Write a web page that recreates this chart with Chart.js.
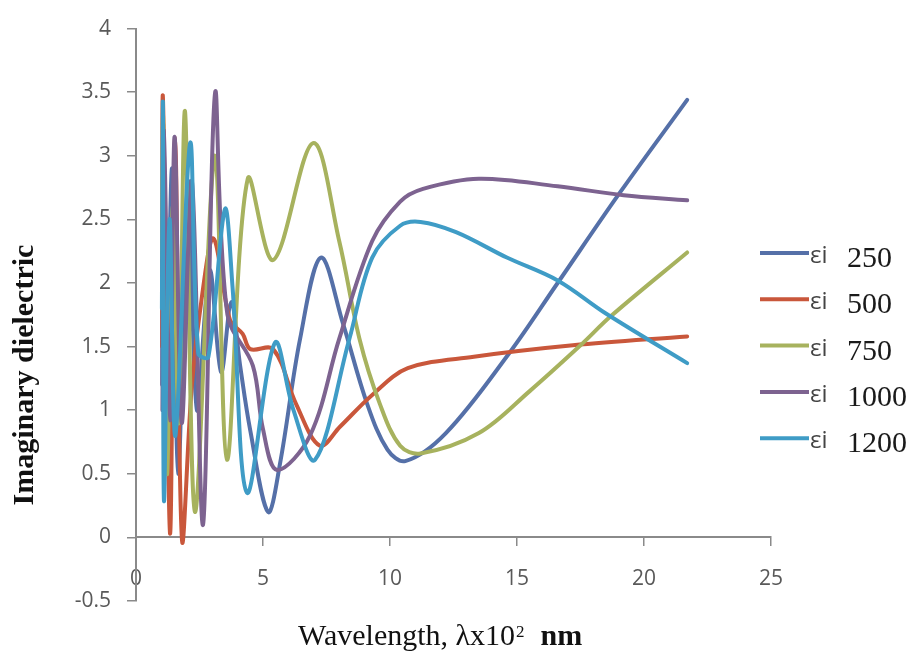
<!DOCTYPE html>
<html>
<head>
<meta charset="utf-8">
<title>Imaginary dielectric</title>
<script src="https://cdn.jsdelivr.net/npm/chart.js@4.4.1/dist/chart.umd.min.js"></script>
<style>
  html, body { margin: 0; padding: 0; background: #fff; }
  #wrap { position: relative; width: 912px; height: 654px; }
</style>
</head>
<body>
<div id="wrap"><canvas id="chart-eps"></canvas></div>
<script>
// annealing temperatures, one curve each
var temps = [250, 500, 750, 1000, 1200];
var colors = ["#5570a8", "#c9573b", "#a7b25e", "#7d6390", "#3f9cc6"];

// wavelength (x10^2 nm) against imaginary dielectric
var wl250 = [1.03, 1.07, 1.18, 1.42, 1.66, 2.05, 2.4, 2.9, 3.35, 3.75, 4.1, 4.5, 5.2, 5.67, 6.46, 7.28, 8.15, 9.1, 9.9, 10.6, 12.2, 14.7, 16.6, 19.05, 21.7];
var ei250 = [1.2, 3.25, 0.9, 2.9, 0.5, 2.8, 1.0, 2.1, 1.3, 1.85, 1.35, 0.84, 0.2, 0.58, 1.56, 2.2, 1.68, 1.05, 0.69, 0.6, 0.82, 1.45, 2.0, 2.71, 3.44];

var wl500 = [1.03, 1.06, 1.34, 1.54, 1.81, 2.2, 2.6, 3.05, 3.7, 4.2, 4.5, 5.4, 6.3, 7.24, 8.03, 9.3, 10.7, 13.3, 17.2, 21.7];
var ei500 = [1.5, 3.46, 0.03, 3.14, -0.02, 1.2, 1.9, 2.35, 1.71, 1.6, 1.48, 1.48, 1.05, 0.72, 0.87, 1.12, 1.33, 1.42, 1.51, 1.58];

var wl750 = [1.03, 1.07, 1.22, 1.45, 1.68, 1.93, 2.32, 3.1, 3.58, 4.4, 5.4, 6.97, 8.0, 8.8, 9.6, 10.4, 11.2, 13.5, 15.5, 17.5, 18.7, 21.7];
var ei750 = [2.2, 3.3, 0.5, 2.6, 0.9, 3.35, 0.2, 3.0, 0.61, 2.82, 2.18, 3.1, 2.33, 1.56, 1.05, 0.72, 0.66, 0.82, 1.15, 1.51, 1.74, 2.24];

var wl1000 = [1.04, 1.1, 1.34, 1.52, 1.8, 2.2, 2.64, 3.11, 3.6, 4.6, 5.0, 5.55, 6.85, 8.0, 9.3, 10.4, 11.3, 13.5, 16.6, 19.2, 21.7];
var ei1000 = [1.0, 3.2, 0.92, 3.15, 0.9, 2.8, 0.1, 3.49, 1.75, 1.35, 0.85, 0.53, 0.8, 1.56, 2.33, 2.64, 2.74, 2.82, 2.76, 2.69, 2.65];

var wl1200 = [1.02, 1.06, 1.1, 1.32, 1.55, 2.13, 2.45, 2.85, 3.5, 3.8, 4.37, 5.47, 6.2, 7.05, 8.4, 9.3, 10.4, 11.2, 12.6, 14.6, 16.6, 18.5, 21.7];
var ei1200 = [1.8, 3.41, 0.29, 2.5, 0.8, 3.1, 1.45, 1.42, 2.58, 1.97, 0.35, 1.53, 1.0, 0.61, 1.56, 2.2, 2.45, 2.48, 2.4, 2.2, 2.02, 1.76, 1.37];

var waves = [wl250, wl500, wl750, wl1000, wl1200];
var values = [ei250, ei500, ei750, ei1000, ei1200];

function toPoints(xs, ys) {
  return xs.map(function (x, i) {
    return { x: x, y: ys[i] };
  });
}

var axisGray = "#8a8a8a";
var tickFont = { family: "'Open Sans', 'Liberation Sans', sans-serif", size: 21 };
var serif = "'Liberation Serif', 'Times New Roman', serif";

// axis titles and the legend are painted by hand (mixed fonts)
var extras = {
  id: "extras",
  afterDraw: function (chart) {
    var c = chart.ctx;

    c.save();
    c.fillStyle = "#111";
    c.translate(33, 375);
    c.rotate(-Math.PI / 2);
    c.font = "bold 30px " + serif;
    c.textAlign = "center";
    c.textBaseline = "alphabetic";
    c.fillText("Imaginary dielectric", 0, 0);
    c.restore();

    c.save();
    c.fillStyle = "#111";
    c.textBaseline = "alphabetic";
    c.textAlign = "left";
    var x = 298;
    var main = "Wavelength, \u03bbx10";
    c.font = "30px " + serif;
    c.fillText(main, x, 645);
    x += c.measureText(main).width + 1;
    c.font = "17px " + serif;
    c.fillText("2", x, 637);
    x += c.measureText("2").width + 16;
    c.font = "bold 30px " + serif;
    c.fillText("nm", x, 645);
    c.restore();

    c.save();
    chart.data.datasets.forEach(function (ds, i) {
      var y = 253 + i * 46.3;
      c.strokeStyle = ds.borderColor;
      c.lineWidth = 4;
      c.beginPath();
      c.moveTo(760, y);
      c.lineTo(809, y);
      c.stroke();
      var parts = ds.label.split(" ");
      c.textAlign = "left";
      c.textBaseline = "alphabetic";
      c.fillStyle = "#444";
      c.font = "24px 'Open Sans', sans-serif";
      c.fillText(parts[0], 810, y + 10);
      c.fillStyle = "#1a1a1a";
      c.font = "30px " + serif;
      c.fillText(parts[1], 847, y + 14);
    });
    c.restore();
  }
};

var datasets = temps.map(function (t, i) {
  return {
    label: "\u03b5i " + t,
    data: toPoints(waves[i], values[i]),
    borderColor: colors[i],
    backgroundColor: colors[i],
    borderWidth: 4,
    pointRadius: 0,
    fill: false,
    tension: 0.35,
    borderCapStyle: "round",
    borderJoinStyle: "round",
    order: temps.length - i
  };
});

var ctx = document.getElementById("chart-eps");
var epsChart = new Chart(ctx, {
  type: "line",
  data: { datasets: datasets },
  options: {
    responsive: true,
    maintainAspectRatio: false,
    animation: false,
    layout: { padding: { left: 0, top: 16, right: 141, bottom: 53 } },
    plugins: {
      legend: { display: false },
      tooltip: { enabled: false }
    },
    scales: {
      x: {
        type: "linear",
        position: { y: 0 },
        min: 0,
        max: 25,
        ticks: {
          stepSize: 5,
          color: "#595959",
          font: tickFont,
          padding: 21,
          autoSkip: false,
          maxRotation: 0
        },
        grid: { drawOnChartArea: false, drawTicks: true, tickLength: 8, color: axisGray, lineWidth: 1.5 },
        border: { display: true, color: axisGray, width: 2 }
      },
      y: {
        type: "linear",
        position: "left",
        min: -0.5,
        max: 4,
        afterFit: function (scale) {
          scale.width = 136;
        },
        ticks: {
          stepSize: 0.5,
          color: "#595959",
          font: tickFont,
          padding: 16,
          autoSkip: false,
          callback: function (v) {
            return String(+v.toFixed(1));
          }
        },
        grid: { drawOnChartArea: false, drawTicks: true, tickLength: 9, color: axisGray, lineWidth: 1.5 },
        border: { display: true, color: axisGray, width: 2 }
      }
    }
  },
  plugins: [extras]
});
</script>
</body>
</html>
